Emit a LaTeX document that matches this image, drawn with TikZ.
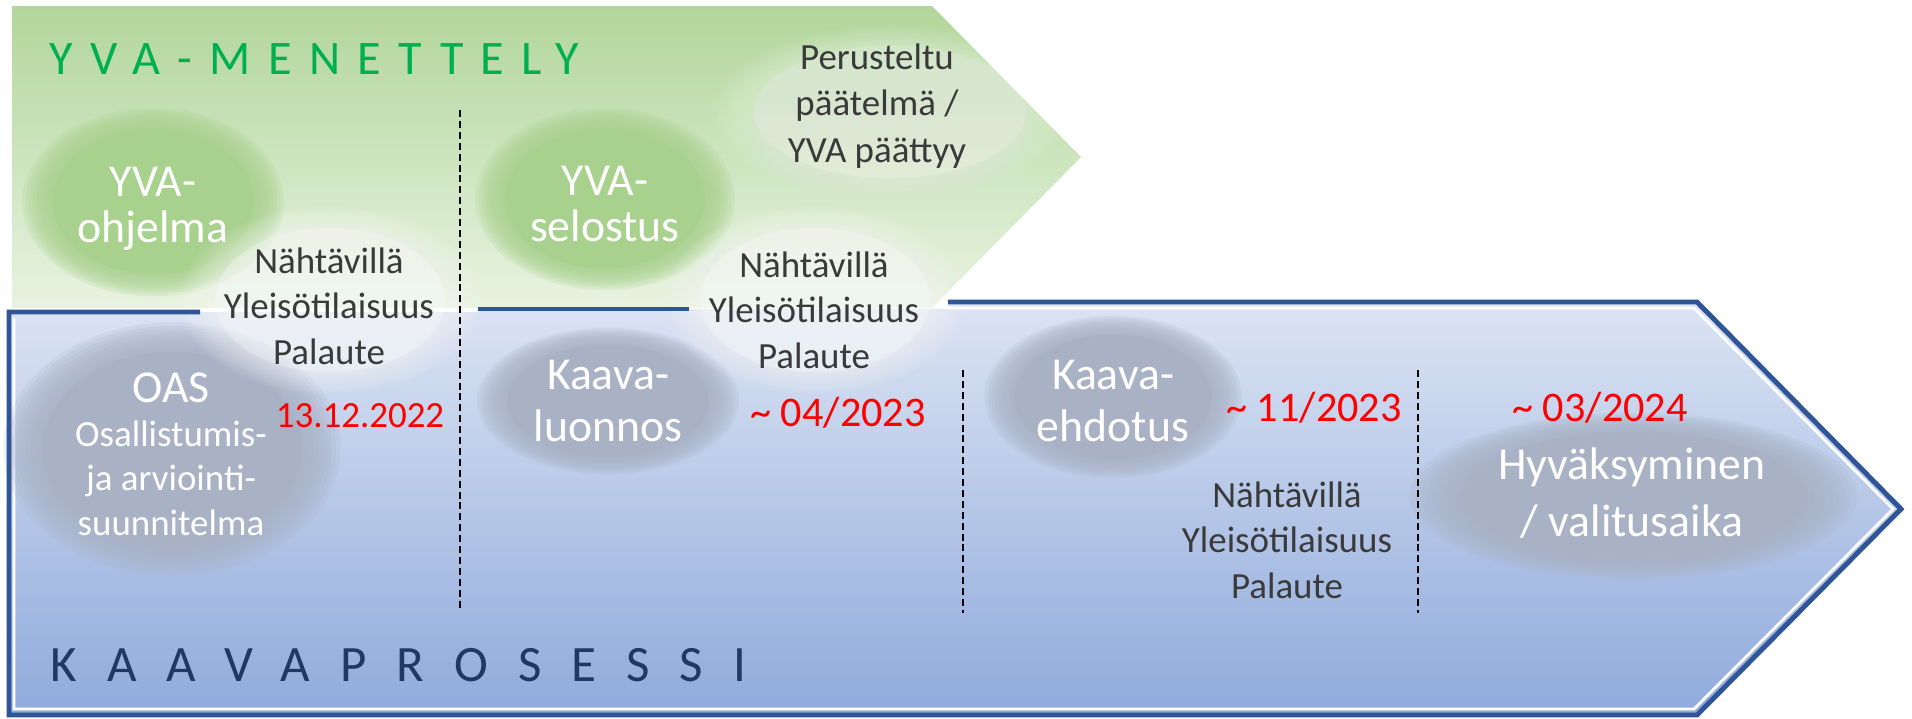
\documentclass[tikz,border=0pt]{standalone}
\usepackage{fontspec}
\setmainfont{Carlito}

\definecolor{yvatop}{HTML}{B2D69B}
\definecolor{yvabot}{HTML}{E8F3E1}
\definecolor{yvablob}{HTML}{A9D18E}
\definecolor{yvatitle}{HTML}{00B050}
\definecolor{kaavatop}{HTML}{DCE4F3}
\definecolor{kaavabot}{HTML}{8FAADC}
\definecolor{kaavablob}{HTML}{A9B2C5}
\definecolor{kaavablue}{HTML}{2F5597}
\definecolor{kaavatitle}{HTML}{1F3864}
\definecolor{txtgray}{HTML}{3A3A3A}
\definecolor{pvmred}{HTML}{FF0000}

\begin{document}
\begin{tikzpicture}[x=0.01cm, y=-0.01cm,
  lbl/.style={font=\fontsize{10.5}{12.9}\selectfont, text=txtgray, align=center, inner sep=0pt},
  blobtxt/.style={font=\fontsize{13}{15}\selectfont, text=white, align=center, inner sep=0pt},
  pvm/.style={font=\fontsize{12}{14}\selectfont, text=pvmred, anchor=base, inner sep=0pt},
  vline/.style={line width=0.8pt, dash pattern=on 2pt off 1.1pt},
  rim/.style={draw=kaavablue, line width=1.4pt, line join=miter}]

\useasboundingbox (0,0) rectangle (1912,718);

% YVA arrow
\shade[top color=yvatop, bottom color=yvabot] (12,6) -- (932,6) -- (1081,157) -- (932,308) -- (12,308) -- cycle;

\foreach \cx/\cy/\rx/\ry/\col/\op in {153/202/118/85/yvablob/1, 605/199/117/82/yvablob/1, 890/112/160/78/white/0.2}{
  \pgfmathsetmacro\lop{0.2*\op}
  \fill[\col, opacity=\op] (\cx,\cy) ellipse [x radius=0.85*\rx, y radius=0.85*\ry];
  \foreach \s in {0.87,0.9,...,1.12}
    \fill[\col, opacity=\lop] (\cx,\cy) ellipse [x radius=\s*\rx, y radius=\s*\ry];
}

% kaava arrow
\shade[top color=kaavatop, bottom color=kaavabot] (9,312) -- (478,312) -- (478,309) -- (948,309) -- (948,302) -- (1697,302) -- (1901,509) -- (1697,715) -- (9,715) -- cycle;
\draw[white, line width=0.8pt] (14,318) -- (14,709) -- (1694,709) -- (1893,509) -- (1694,308) -- (948,308);

\foreach \cx/\cy/\rx/\ry/\col/\op in {172/449/152/114/kaavablob/1, 608/401/118/66/kaavablob/1, 1113/397/116/73/kaavablob/1, 1633/496/202/75/kaavablob/1, 330/300/135/85/white/0.3, 815/300/135/85/white/0.3}{
  \pgfmathsetmacro\lop{0.2*\op}
  \fill[\col, opacity=\op] (\cx,\cy) ellipse [x radius=0.85*\rx, y radius=0.85*\ry];
  \foreach \s in {0.87,0.9,...,1.12}
    \fill[\col, opacity=\lop] (\cx,\cy) ellipse [x radius=\s*\rx, y radius=\s*\ry];
}

\draw[rim] (200,312) -- (9,312) -- (9,715) -- (1697,715) -- (1901,509) -- (1697,302) -- (948,302);
\draw[rim] (478,309) -- (689,309);

% phase borders
\coordinate (v1a) at (460,110);
\coordinate (v1b) at (460,611);
\coordinate (v2a) at (963,370);
\coordinate (v2b) at (963,613);
\coordinate (v3a) at (1418,370);
\coordinate (v3b) at (1418,613);
\draw[vline] (v1a) -- (v1b);
\draw[vline] (v2a) -- (v2b);
\draw[vline] (v3a) -- (v3b);

% titles
\node[anchor=base west, inner sep=0pt, text=yvatitle, font={\fontsize{13.7}{16}\selectfont\addfontfeature{LetterSpace=36}}] (yvaotsikko) at (49,74) {YVA-MENETTELY};
\node[anchor=base west, inner sep=0pt, text=kaavatitle, font={\fontsize{14.5}{17}\selectfont\addfontfeature{LetterSpace=59}}] (kaavaotsikko) at (50,681) {KAAVAPROSESSI};

% YVA
\node[blobtxt, font=\fontsize{13}{13.2}\selectfont] (yvaohj) at (153,209) {YVA-\\ohjelma};
\node[blobtxt, font=\fontsize{13}{13.2}\selectfont] (yvasel) at (605,204) {YVA-\\selostus};
\node[lbl, font=\fontsize{10.5}{13.3}\selectfont] (perust) at (877,106) {Perusteltu\\päätelmä /\\YVA päättyy};
\node[lbl] (nah1) at (329,306) {Nähtävillä\\Yleisötilaisuus\\Palaute};
\node[lbl] (nah2) at (814,310) {Nähtävillä\\Yleisötilaisuus\\Palaute};

% kaava
\node[lbl, text=white, font=\fontsize{10.5}{12.6}\selectfont] (oas) at (171,454) {{\fontsize{13}{14.5}\selectfont OAS}\\Osallistumis-\\ja arviointi-\\suunnitelma};
\node[blobtxt] (luonnos) at (608,401) {Kaava-\\luonnos};
\node[blobtxt] (ehdotus) at (1113,401) {Kaava-\\ehdotus};
\node[blobtxt, font=\fontsize{13}{16}\selectfont] (hyvaks) at (1632,493) {Hyväksyminen\\/ valitusaika};
\node[lbl] (nah3) at (1287,540) {Nähtävillä\\Yleisötilaisuus\\Palaute};

\node[pvm, font=\fontsize{10.5}{12.6}\selectfont] (pvm1) at (360,427) {13.12.2022};
\node[pvm] (pvm2) at (838,426) {\char`\~\ 04/2023};
\node[pvm] (pvm3) at (1314,421) {\char`\~\ 11/2023};
\node[pvm] (pvm4) at (1600,421) {\char`\~\ 03/2024};

\end{tikzpicture}
\end{document}
